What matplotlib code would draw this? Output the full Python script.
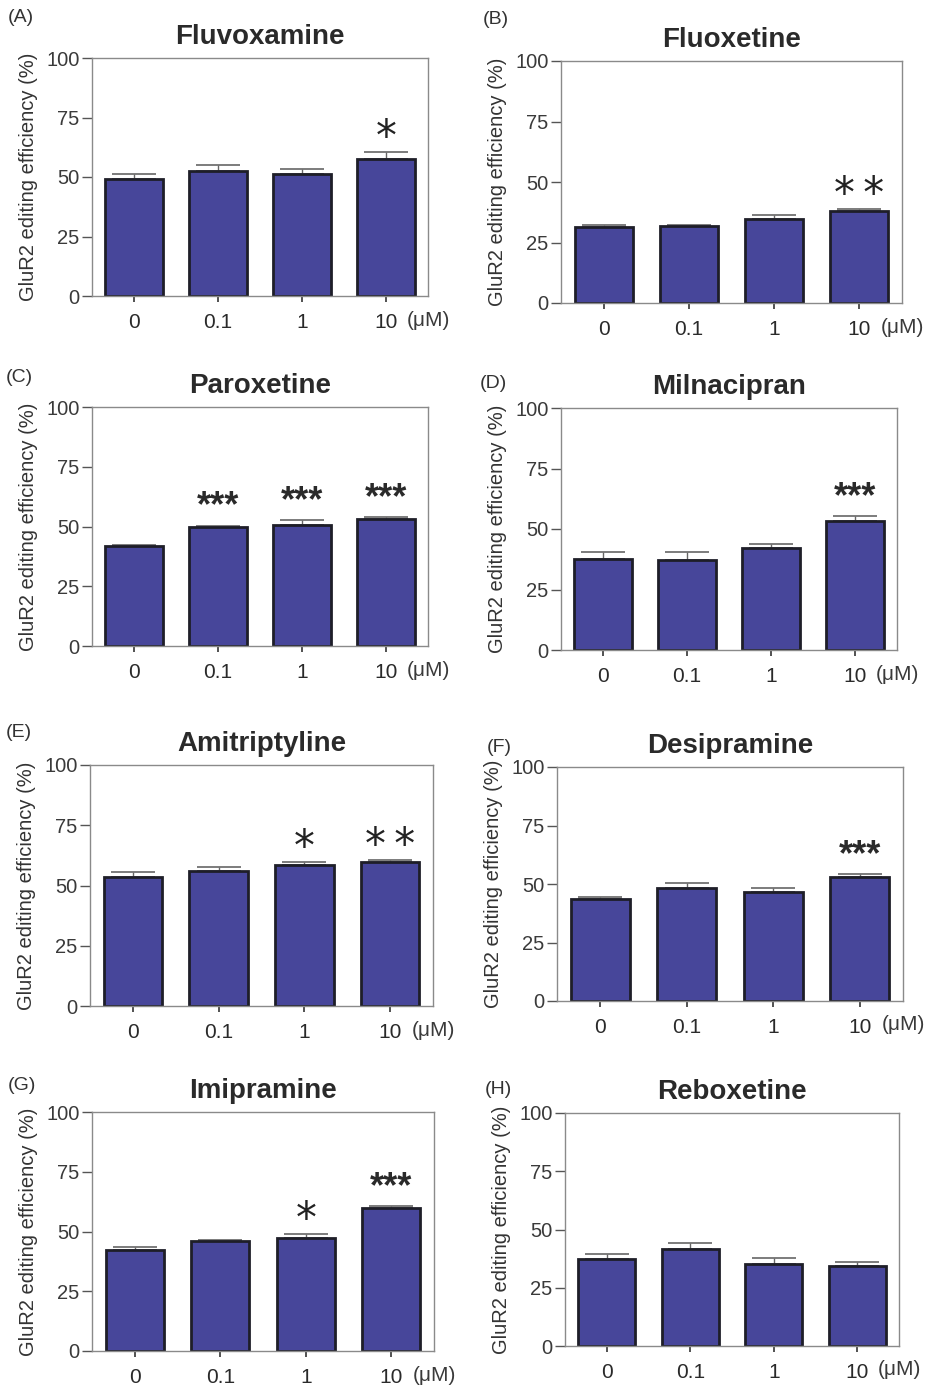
"""
GluR2 editing efficiency after antidepressant treatment, 8 panels
"""

import numpy as np
import matplotlib
matplotlib.use("Agg")
import matplotlib.pyplot as plt

plt.rcParams['font.family'] = ['Liberation Sans', 'DejaVu Sans']

doses = ['0', '0.1', '1', '10']
panel_tags = ['(A)', '(B)', '(C)', '(D)', '(E)', '(F)', '(G)', '(H)']
drugs = ['Fluvoxamine', 'Fluoxetine', 'Paroxetine', 'Milnacipran',
         'Amitriptyline', 'Desipramine', 'Imipramine', 'Reboxetine']

# mean editing efficiency (%) per dose
fluvoxamine = [49.0, 52.6, 51.3, 57.6]
fluoxetine = [31.5, 31.7, 34.7, 38.1]
paroxetine = [41.8, 49.7, 50.6, 53.1]
milnacipran = [37.5, 37.1, 42.3, 53.2]
amitriptyline = [53.6, 56.1, 58.7, 59.6]
desipramine = [43.4, 48.2, 46.7, 53.2]
imipramine = [42.1, 46.0, 47.4, 60.0]
reboxetine = [37.3, 41.7, 35.4, 34.3]

# upper error (SEM)
fluvoxamine_err = [2.3, 2.3, 1.9, 2.8]
fluoxetine_err = [0.6, 0.6, 1.6, 0.8]
paroxetine_err = [0.5, 0.7, 2.0, 0.7]
milnacipran_err = [2.9, 3.3, 1.4, 2.0]
amitriptyline_err = [2.1, 1.4, 0.9, 1.1]
desipramine_err = [1.1, 2.3, 1.4, 0.9]
imipramine_err = [1.5, 0.4, 1.7, 0.5]
reboxetine_err = [2.3, 2.7, 2.2, 1.8]

# significance marks
fluvoxamine_sig = ['', '', '', '*']
fluoxetine_sig = ['', '', '', '**']
paroxetine_sig = ['', '***', '***', '***']
milnacipran_sig = ['', '', '', '***']
amitriptyline_sig = ['', '', '*', '**']
desipramine_sig = ['', '', '', '***']
imipramine_sig = ['', '', '*', '***']
reboxetine_sig = ['', '', '', '']

means = [fluvoxamine, fluoxetine, paroxetine, milnacipran,
         amitriptyline, desipramine, imipramine, reboxetine]
errs = [fluvoxamine_err, fluoxetine_err, paroxetine_err, milnacipran_err,
        amitriptyline_err, desipramine_err, imipramine_err, reboxetine_err]
sigs = [fluvoxamine_sig, fluoxetine_sig, paroxetine_sig, milnacipran_sig,
        amitriptyline_sig, desipramine_sig, imipramine_sig, reboxetine_sig]

W, H = 929, 1386
# axes boxes in pixels: left, top, right, bottom
boxes = [(92, 58, 428, 296), (561, 61, 902, 303),
         (92, 407, 428, 646), (561, 408, 897, 650),
         (90, 765, 433, 1006), (557, 767, 903, 1001),
         (92, 1112, 434, 1351), (565, 1113, 899, 1346)]
tag_pos = [(8, 18), (483, 20), (6, 378), (480, 383),
           (6, 733), (487, 747), (8, 1085), (485, 1090)]

bar_color = '#47469a'
frame_color = '#8a8a8a'
text_color = '#2a2a2a'

fig = plt.figure(figsize=(W / 100, H / 100), dpi=100)

for i in range(8):
    l, t, r, b = boxes[i]
    ax = fig.add_axes([l / W, 1 - b / H, (r - l) / W, (b - t) / H])
    x = np.arange(len(doses))
    ax.bar(x, means[i], width=0.68, color=bar_color,
           edgecolor='#1e1e28', linewidth=2.0, zorder=2)
    ax.errorbar(x, means[i], yerr=[np.zeros(4), errs[i]], fmt='none',
                ecolor='#666666', elinewidth=1.0, capsize=16,
                capthick=1.2, zorder=1)

    for j, s in enumerate(sigs[i]):
        if not s:
            continue
        top = means[i][j] + errs[i][j]
        if s == '***':
            ax.annotate(s, (j, top), xytext=(0, 1), textcoords='offset points',
                        ha='center', va='bottom', fontsize=26,
                        fontweight='bold', color=text_color)
        elif s == '**':
            ax.annotate('*\u2009*', (j, top), xytext=(0, -5),
                        textcoords='offset points', ha='center', va='bottom',
                        fontsize=30, family='DejaVu Sans', color='#222222')
        else:
            ax.annotate(s, (j, top), xytext=(0, -5),
                        textcoords='offset points', ha='center', va='bottom',
                        fontsize=30, family='DejaVu Sans', color='#222222')

    ax.set_xlim(-0.5, 3.5)
    ax.set_ylim(0, 100)
    ax.set_yticks([0, 25, 50, 75, 100])
    ax.set_xticks(x)
    ax.set_xticklabels(doses)
    ax.tick_params(axis='y', direction='out', length=7, width=1,
                   color='#555555', labelsize=14.5, labelcolor='#3a3a3a', pad=2)
    ax.tick_params(axis='x', direction='out', length=4, width=1.2,
                   color='#333333', labelsize=15, labelcolor=text_color, pad=8)
    for sp in ax.spines.values():
        sp.set_color(frame_color)
        sp.set_linewidth(1.0)
    ax.set_ylabel('GluR2 editing efficiency (%)', fontsize=14.5,
                  color='#333333', labelpad=6)
    ax.set_title(drugs[i], fontsize=20, fontweight='bold',
                 color=text_color, pad=10)
    ax.text(1.0, -0.102, '(\u03bcM)', transform=ax.transAxes, ha='center',
            va='center', fontsize=15, color='#3a3a3a')

    tx, ty = tag_pos[i]
    fig.text(tx / W, 1 - ty / H, panel_tags[i], fontsize=14,
             color='#333333', ha='left', va='center')

fig.savefig('out.png', dpi=100)
